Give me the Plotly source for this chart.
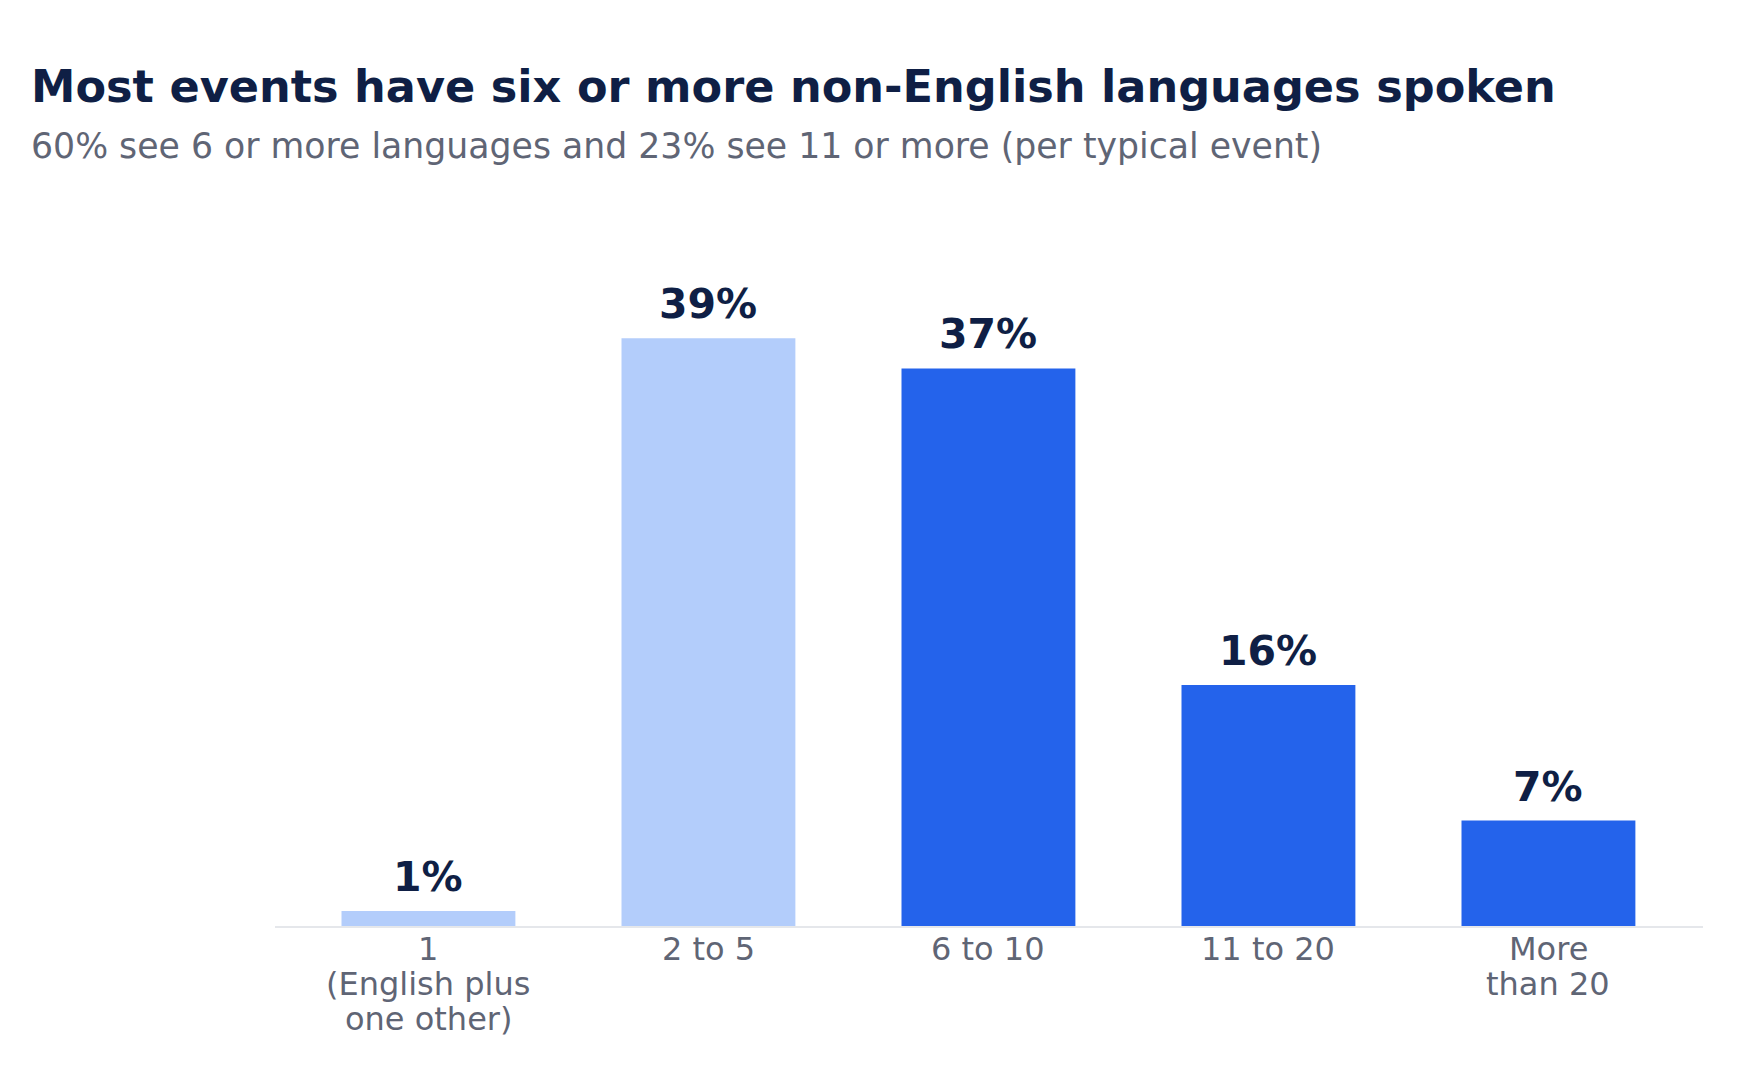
import plotly.graph_objects as go

# data
categories = ["1", "2 to 5", "6 to 10", "11 to 20", "More than 20"]
tick_lines = [["1", "(English plus", "one other)"], ["2 to 5"], ["6 to 10"], ["11 to 20"], ["More", "than 20"]]
shares = [1, 39, 37, 16, 7]
labels = ["1%", "39%", "37%", "16%", "7%"]

TITLE = "Most events have six or more non-English languages spoken"
SUBTITLE = "60% see 6 or more languages and 23% see 11 or more (per typical event)"

LIGHT = "#b3cdfb"
DARK = "#2463eb"
NAVY = "#0f1f45"
GREY = "#5f6575"
FONT = "DejaVu Sans"

bar_colors = [LIGHT, LIGHT, DARK, DARK, DARK]

W, H = 1753, 1090
ML, MR, MT, MB = 267, 58, 255, 172
plot_w = W - ML - MR
plot_h = H - MT - MB

fig = go.Figure(go.Bar(
    x=categories,
    y=shares,
    marker=dict(color=bar_colors, line=dict(width=0)),
    width=0.621,
    hoverinfo="skip",
))

# value labels above the bars (x given as category index, "1" would be read as a number)
for i, (val, lab) in enumerate(zip(shares, labels)):
    fig.add_annotation(
        x=i, y=val, text=lab,
        xref="x", yref="y",
        yanchor="middle", yshift=34,
        showarrow=False,
        font=dict(family=FONT, size=41, color=NAVY, weight="bold"),
    )

# category labels, one annotation per line to get the tight line spacing
for i, lines in enumerate(tick_lines):
    for j, line in enumerate(lines):
        fig.add_annotation(
            x=i, y=0, text=line,
            xref="x", yref="y",
            yanchor="middle", yshift=-23 - 35 * j,
            showarrow=False,
            font=dict(family=FONT, size=32, color=GREY),
        )

fig.update_xaxes(
    type="category",
    range=[-0.548, 4.552],
    showticklabels=False,
    showline=True,
    linecolor="#e5e7eb",
    linewidth=2,
    ticks="",
    showgrid=False,
)
fig.update_yaxes(
    range=[0, 44],
    visible=False,
    showgrid=False,
    zeroline=False,
)

# title and subtitle sit at the left edge of the page, outside the plot area
x_left = (21 - ML) / plot_w
fig.add_annotation(
    text="<b>" + TITLE + "</b>",
    xref="paper", yref="paper",
    x=x_left, y=1 + (MT - 78.6) / plot_h,
    xanchor="left", yanchor="middle",
    showarrow=False,
    font=dict(family=FONT, size=44.6, color=NAVY),
)
fig.add_annotation(
    text=SUBTITLE,
    xref="paper", yref="paper",
    x=x_left, y=1 + (MT - 138) / plot_h,
    xanchor="left", yanchor="middle",
    showarrow=False,
    font=dict(family=FONT, size=34.7, color=GREY),
)

fig.update_layout(
    width=W,
    height=H,
    margin=dict(l=ML, r=MR, t=MT, b=MB),
    paper_bgcolor="white",
    plot_bgcolor="white",
    showlegend=False,
    font=dict(family=FONT),
)

fig.write_html("out.html")
